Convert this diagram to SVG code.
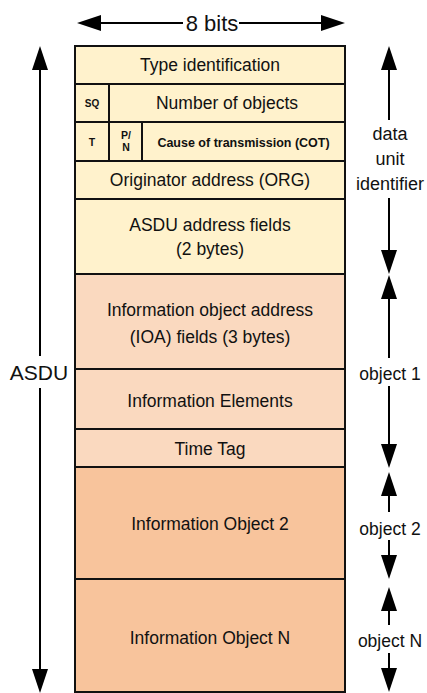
<svg xmlns="http://www.w3.org/2000/svg" width="427" height="693" viewBox="0 0 427 693">
<style>
.t{font-family:"Liberation Sans",Arial,sans-serif;font-size:17.5px;fill:#111;text-anchor:middle}
.b{font-family:"Liberation Sans",Arial,sans-serif;font-weight:bold;fill:#111;text-anchor:middle}
.y{fill:#FFF2CC;stroke:#111;stroke-width:2}
.p{fill:#FAD9BF;stroke:#111;stroke-width:2}
.o{fill:#F8C49C;stroke:#111;stroke-width:2}
.c{stroke:#000;stroke-width:2;fill:none;marker-end:url(#ah)}
</style>
<defs>
<marker id="ah" markerUnits="userSpaceOnUse" markerWidth="25" markerHeight="17" refX="0" refY="8" orient="auto" overflow="visible">
<path d="M0,0 L24,8 L0,16 z" fill="#000"/>
</marker>
</defs>
<rect width="427" height="693" fill="#fff"/>
<g id="type-id"><rect class="y" x="75" y="46" width="270" height="38"/><text class="t" x="210" y="71">Type identification</text></g>
<g id="sq"><rect class="y" x="75" y="84" width="34" height="38"/><text class="b" x="92" y="107" font-size="10">SQ</text></g>
<g id="num-objects"><rect class="y" x="109" y="84" width="236" height="38"/><text class="t" x="227" y="109">Number of objects</text></g>
<g id="t-bit"><rect class="y" x="75" y="122" width="34" height="39"/><text class="b" x="92" y="146" font-size="10.5">T</text></g>
<g id="pn-bit"><rect class="y" x="109" y="122" width="33" height="39"/><text class="b" x="126" y="139" font-size="10.5">P/</text><text class="b" x="126" y="151" font-size="10.5">N</text></g>
<g id="cot"><rect class="y" x="142" y="122" width="203" height="39"/><text class="b" x="243.5" y="147" font-size="12.5">Cause of transmission (COT)</text></g>
<g id="org"><rect class="y" x="75" y="161" width="270" height="38"/><text class="t" x="210" y="186">Originator address (ORG)</text></g>
<g id="asdu-addr"><rect class="y" x="75" y="199" width="270" height="75"/><text class="t" x="210" y="231">ASDU address fields</text><text class="t" x="210" y="255">(2 bytes)</text></g>
<g id="ioa"><rect class="p" x="75" y="274" width="270" height="95"/><text class="t" x="210" y="316">Information object address</text><text class="t" x="210" y="343">(IOA) fields (3 bytes)</text></g>
<g id="info-elements"><rect class="p" x="75" y="369" width="270" height="60"/><text class="t" x="210" y="407">Information Elements</text></g>
<g id="time-tag"><rect class="p" x="75" y="429" width="270" height="38"/><text class="t" x="210" y="455">Time Tag</text></g>
<g id="io2"><rect class="o" x="75" y="467" width="270" height="112"/><text class="t" x="210" y="530">Information Object 2</text></g>
<g id="ion"><rect class="o" x="75" y="579" width="270" height="113"/><text class="t" x="210" y="644">Information Object N</text></g>
<g id="connectors">
<line class="c" x1="183" y1="23" x2="101" y2="23"/>
<line class="c" x1="239" y1="23" x2="321" y2="23"/>
<line class="c" x1="40" y1="356" x2="40" y2="70"/>
<line class="c" x1="40" y1="388" x2="40" y2="669"/>
<line class="c" x1="389" y1="120" x2="389" y2="70"/>
<line class="c" x1="389" y1="198" x2="389" y2="250"/>
<line class="c" x1="389" y1="358" x2="389" y2="299"/>
<line class="c" x1="389" y1="386" x2="389" y2="444"/>
<line class="c" x1="389" y1="512" x2="389" y2="496"/>
<line class="c" x1="389" y1="540" x2="389" y2="555"/>
<line class="c" x1="389" y1="625" x2="389" y2="611"/>
<line class="c" x1="389" y1="653" x2="389" y2="668"/>
</g>
<g id="labels">
<text class="t" x="212" y="31" style="font-size:22px">8 bits</text>
<text class="t" x="39" y="380" style="font-size:21px">ASDU</text>
<text class="t" x="390" y="140" style="font-size:18px">data</text>
<text class="t" x="390" y="165" style="font-size:18px">unit</text>
<text class="t" x="390" y="190" style="font-size:18px">identifier</text>
<text class="t" x="390" y="380">object 1</text>
<text class="t" x="390" y="535">object 2</text>
<text class="t" x="390" y="647">object N</text>
</g>
</svg>
